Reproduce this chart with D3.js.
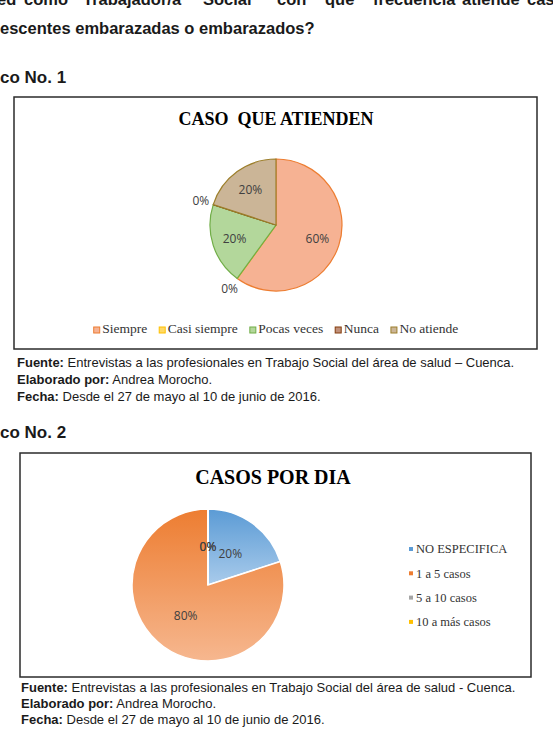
<!DOCTYPE html>
<html>
<head>
<meta charset="utf-8">
<script src="https://cdn.jsdelivr.net/npm/d3@7"></script>
<style>
  body { margin: 0; background: #fff; }
  svg { display: block; }
  .doc { font-family: "Liberation Sans", Arial, sans-serif; fill: #1a1a1a; }
  .serif { font-family: "Liberation Serif", "Times New Roman", serif; }
  .lbl { font-family: "Open Sans", "Noto Sans", sans-serif; font-size: 12px; fill: #404040; }
</style>
</head>
<body>
<svg id="page" width="553" height="743"></svg>
<script>
// chart 1: CASO QUE ATIENDEN
const cats1 = ["Siempre", "Casi siempre", "Pocas veces", "Nunca", "No atiende"];
const vals1 = [60, 0, 20, 0, 20];
// chart 2: CASOS POR DIA
const cats2 = ["NO ESPECIFICA", "1 a 5 casos", "5 a 10 casos", "10 a más casos"];
const vals2 = [20, 80, 0, 0];

// first line of the page is cut off at the top, as in the scanned document
const headWords = ["ed", "como", "Trabajador/a", "Social", "con", "que", "frecuencia", "atiende", "caso"];
const headX = [-3, 24, 83, 203, 277, 325, 373, 462, 527];
const notes1 = [
  ["Fuente:", " Entrevistas a las profesionales en Trabajo Social del área de salud – Cuenca."],
  ["Elaborado por:", " Andrea Morocho."],
  ["Fecha:", " Desde el 27 de mayo al 10 de junio de 2016."]
];
const notes2 = [
  ["Fuente:", " Entrevistas a las profesionales en Trabajo Social del área de salud - Cuenca."],
  ["Elaborado por:", " Andrea Morocho."],
  ["Fecha:", " Desde el 27 de mayo al 10 de junio de 2016."]
];

const svg = d3.select("#page");
const defs = svg.append("defs");

// document text around the charts
const head = svg.append("g").attr("class", "doc").style("font-weight", "bold").style("font-size", "16.5px");
head.selectAll("text").data(headWords).join("text")
  .attr("x", (d, i) => headX[i]).attr("y", 5).text(d => d);
head.append("text").attr("x", 0).attr("y", 33.5).text("escentes embarazadas o embarazados?");
head.append("text").attr("x", 0).attr("y", 83).style("font-size", "17px").text("co No. 1");
head.append("text").attr("x", 0).attr("y", 438).style("font-size", "17px").text("co No. 2");

function notes(rows, x, y0, step) {
  const g = svg.append("g").attr("class", "doc").style("font-size", "13px");
  rows.forEach((r, i) => {
    const t = g.append("text").attr("x", x).attr("y", y0 + i * step);
    t.append("tspan").style("font-weight", "bold").text(r[0]);
    t.append("tspan").style("white-space", "pre").text(r[1]);
  });
}
notes(notes1, 17, 367, 17);
notes(notes2, 21, 692, 16);

// ---------- chart 1 ----------
const fill1 = ["#F6B293", "#FFD966", "#B3D79B", "#C0907A", "#CBB597"];
const line1 = ["#ED7D31", "#FFC000", "#70AD47", "#843C0C", "#9C7E2A"];

svg.append("rect").attr("x", 14).attr("y", 97).attr("width", 523).attr("height", 252)
  .attr("fill", "#fff").attr("stroke", "#2b2b2b").attr("stroke-width", 1.5);

svg.append("text").attr("class", "serif").attr("x", 276).attr("y", 125)
  .attr("text-anchor", "middle").style("font-weight", "bold").style("font-size", "18px")
  .style("white-space", "pre").text("CASO  QUE ATIENDEN");

const r1 = 66;
const pie = d3.pie().sort(null).value(d => d);
const arcs1 = pie(vals1);
const g1 = svg.append("g").attr("transform", "translate(276,225)");
g1.selectAll("path").data(arcs1).join("path")
  .attr("d", d3.arc().innerRadius(0).outerRadius(r1))
  .attr("fill", (d, i) => fill1[i])
  .attr("stroke", (d, i) => line1[i]).attr("stroke-width", 1.2);

const inArc1 = d3.arc().innerRadius(r1 * 0.66).outerRadius(r1 * 0.66);
const outArc1 = d3.arc().innerRadius(r1 + 13).outerRadius(r1 + 13);
g1.selectAll("text").data(arcs1).join("text")
  .attr("class", "lbl").attr("text-anchor", "middle").attr("dy", "0.35em")
  .attr("transform", d => `translate(${(d.value === 0 ? outArc1 : inArc1).centroid(d)})`)
  .text(d => d.value + "%");

// legend, centred under the pie
const leg1 = svg.append("g").attr("class", "serif").style("font-size", "13.5px");
const items1 = leg1.selectAll("g").data(cats1).join("g");
items1.append("rect").attr("width", 6).attr("height", 6).attr("y", -6)
  .attr("fill", (d, i) => fill1[i]).attr("stroke", (d, i) => line1[i]).attr("stroke-width", 1);
items1.append("text").attr("x", 8.5).attr("y", 0).attr("fill", "#333").text(d => d);
let lx = 0;
items1.each(function () {
  d3.select(this).attr("transform", `translate(${lx},0)`);
  lx += this.getBBox().width + 12;
});
leg1.attr("transform", `translate(${276 - (lx - 12) / 2},333)`);

// ---------- chart 2 ----------
const top2 = ["#5B9BD5", "#ED7D31", "#A5A5A5", "#FFC000"];
const bot2 = ["#A9CBEB", "#F6B78F", "#D0D0D0", "#FFD966"];
cats2.forEach((c, i) => {
  const lg = defs.append("linearGradient").attr("id", "g2_" + i)
    .attr("x1", 0).attr("y1", 0).attr("x2", 0).attr("y2", 1);
  lg.append("stop").attr("offset", "0%").attr("stop-color", top2[i]);
  lg.append("stop").attr("offset", "100%").attr("stop-color", bot2[i]);
});

svg.append("rect").attr("x", 20).attr("y", 453).attr("width", 511).attr("height", 224)
  .attr("fill", "#fff").attr("stroke", "#2b2b2b").attr("stroke-width", 1.5);

svg.append("text").attr("class", "serif").attr("x", 273).attr("y", 484)
  .attr("text-anchor", "middle").style("font-weight", "bold").style("font-size", "20px")
  .text("CASOS POR DIA");

const r2 = 76;
const arcs2 = pie(vals2);
const g2 = svg.append("g").attr("transform", "translate(208,585)");
g2.selectAll("path").data(arcs2).join("path")
  .attr("d", d3.arc().innerRadius(0).outerRadius(r2))
  .attr("fill", (d, i) => `url(#g2_${i})`)
  .attr("stroke", "#fff").attr("stroke-width", 1.5);

const labArc2 = d3.arc().innerRadius(0).outerRadius(r2);
g2.selectAll("text").data(arcs2).join("text")
  .attr("class", "lbl").attr("text-anchor", "middle").attr("dy", "0.35em")
  .attr("transform", d => `translate(${labArc2.centroid(d)})`)
  .text(d => d.value + "%");

const leg2 = svg.append("g").attr("class", "serif").style("font-size", "12.5px")
  .attr("transform", "translate(409,0)");
const items2 = leg2.selectAll("g").data(cats2).join("g")
  .attr("transform", (d, i) => `translate(0,${549 + i * 24.3})`);
items2.append("rect").attr("width", 4).attr("height", 4).attr("y", -2)
  .attr("fill", (d, i) => top2[i]);
items2.append("text").attr("x", 7).attr("dy", "0.35em").attr("fill", "#333").text(d => d);
</script>
</body>
</html>
